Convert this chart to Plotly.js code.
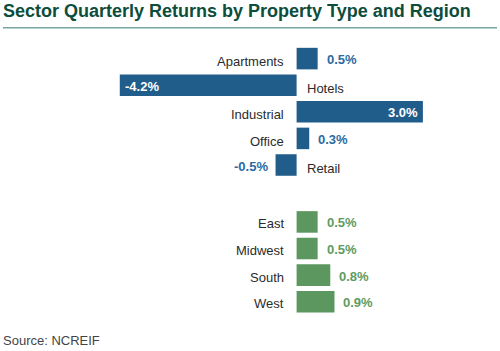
<!DOCTYPE html>
<html>
<head>
<meta charset="utf-8">
<script src="https://cdn.plot.ly/plotly-3.0.1.min.js"></script>
<style>
html,body{margin:0;padding:0;background:#fff;}
#chart{width:500px;height:351px;}
</style>
</head>
<body>
<div id="chart"></div>
<script>
// ---- data ----
const sectors = ['Apartments', 'Hotels', 'Industrial', 'Office', 'Retail'];
const sectorReturns = [0.5, -4.2, 3.0, 0.3, -0.5];
const regions = ['East', 'Midwest', 'South', 'West'];
const regionReturns = [0.5, 0.5, 0.8, 0.9];
const titleText = 'Sector Quarterly Returns by Property Type and Region';
const sourceText = 'Source: NCREIF';

// ---- styling / layout ----
const BLUE = '#215d8b', BLUE_TXT = '#2b6aa2';
const GREEN = '#5b975f', GREEN_TXT = '#5e9b62';
const LABEL = '#2b2b2b';
const GROUP_GAP = 1.14;
const FONT = 'Liberation Sans, Arial, sans-serif';

const sectorPos = sectors.map((_, i) => i);
const regionPos = regions.map((_, j) => sectors.length + GROUP_GAP + j);

function barTrace(vals, pos, color) {
  return {
    type: 'bar', orientation: 'h', x: vals, y: pos, width: 0.81,
    marker: {color: color, line: {width: 0}}, hoverinfo: 'skip', showlegend: false
  };
}

const annotations = [];
function addLabels(names, vals, pos, txtColor, catShift) {
  names.forEach((name, i) => {
    const v = vals[i];
    // category label on the opposite side of zero
    annotations.push({
      x: 0, y: pos[i], xref: 'x', yref: 'y', text: name, showarrow: false,
      xanchor: v >= 0 ? 'right' : 'left', yanchor: 'middle',
      xshift: v >= 0 ? -10.5 : 8, yshift: catShift,
      font: {family: FONT, size: 13, color: LABEL}
    });
    const inside = Math.abs(v) >= 1;
    const txt = v.toFixed(1) + '%';
    let xanchor, xshift;
    if (inside) {
      xanchor = v >= 0 ? 'right' : 'left';
      xshift = v >= 0 ? -2.5 : 3.5;
    } else {
      xanchor = v >= 0 ? 'left' : 'right';
      xshift = v >= 0 ? 7 : -5.5;
    }
    annotations.push({
      x: v, y: pos[i], xref: 'x', yref: 'y', text: '<b>' + txt + '</b>', showarrow: false,
      xanchor: xanchor, yanchor: 'middle', xshift: xshift, yshift: -1,
      font: {family: FONT, size: 13, color: inside ? '#ffffff' : txtColor}
    });
  });
}
addLabels(sectors, sectorReturns, sectorPos, BLUE_TXT, -3);
addLabels(regions, regionReturns, regionPos, GREEN_TXT, -2);

annotations.push({
  x: 3 / 500, y: 1 - 17 / 351, xref: 'paper', yref: 'paper', xanchor: 'left', yanchor: 'bottom',
  text: '<b>' + titleText + '</b>', showarrow: false, borderpad: 0, borderwidth: 0, yshift: -4,
  font: {family: FONT, size: 18, color: '#0d4d3c'}
});
annotations.push({
  x: 3 / 500, y: 1 - 345 / 351, xref: 'paper', yref: 'paper', xanchor: 'left', yanchor: 'bottom',
  text: sourceText, showarrow: false, borderpad: 0, borderwidth: 0, yshift: -3,
  font: {family: FONT, size: 13, color: '#444444'}
});

// pixel mapping: zero at 296.6px, 42.1 px per 1%; first row centre 58.6px, pitch 26.6px
const X0 = 296.6, PX = 42.1, Y0 = 58.6, PY = 26.6;
const layout = {
  width: 500, height: 351,
  margin: {l: 0, r: 0, t: 0, b: 0, pad: 0},
  paper_bgcolor: '#ffffff', plot_bgcolor: '#ffffff',
  barmode: 'overlay',
  xaxis: {range: [-X0 / PX, (500 - X0) / PX], visible: false, fixedrange: true},
  yaxis: {range: [(351 - Y0) / PY, -Y0 / PY], visible: false, fixedrange: true},
  annotations: annotations,
  shapes: [{
    type: 'line', xref: 'paper', yref: 'paper',
    x0: 3 / 500, x1: 497 / 500, y0: 1 - 27.8 / 351, y1: 1 - 27.8 / 351,
    line: {color: '#76a59d', width: 1.5}
  }]
};

Plotly.newPlot('chart', [
  barTrace(sectorReturns, sectorPos, BLUE),
  barTrace(regionReturns, regionPos, GREEN)
], layout, {staticPlot: true, displayModeBar: false});
</script>
</body>
</html>
